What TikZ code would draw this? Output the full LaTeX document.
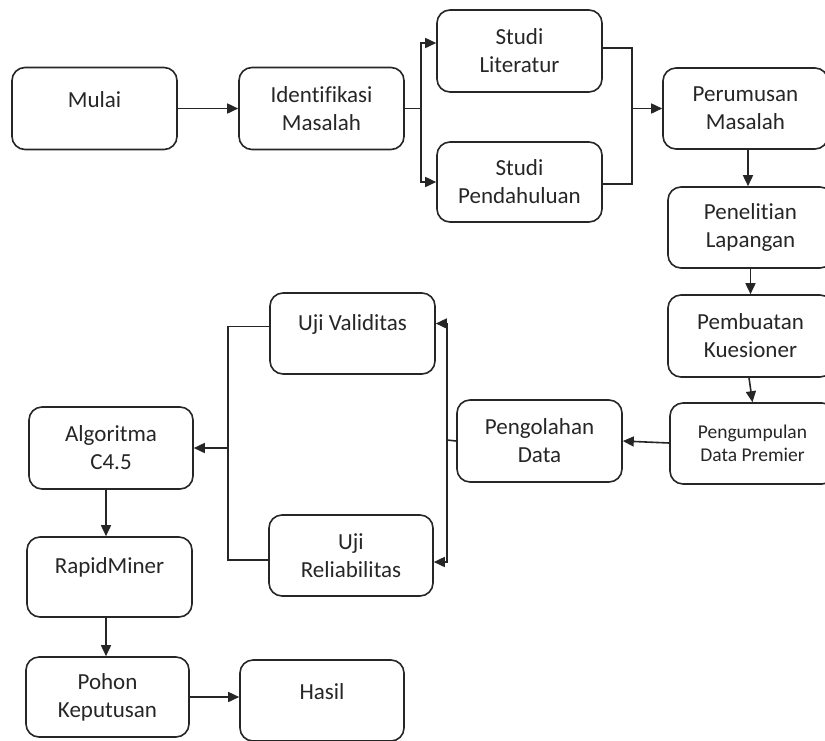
\documentclass[tikz,border=0pt]{standalone}
\usepackage{fontspec}
\setmainfont[Ligatures=NoCommon]{Carlito}
\usetikzlibrary{arrows.meta}
\tikzset{
  box/.style={draw=black!85, line width=1.6pt, rounded corners=13pt, minimum width=165pt, minimum height=82pt, inner sep=0pt, align=center, text=black!85, font=\fontsize{23}{28}\selectfont},
  lbl/.style={text=black!85, font=\fontsize{23}{28}\selectfont, inner sep=0pt},
  arr/.style={draw=black!85, line width=1.6pt, -{Triangle[length=11pt,width=10pt]}},
  ln/.style={draw=black!85, line width=1.6pt},
}
\begin{document}
\begin{tikzpicture}[x=1pt,y=-1pt]
\useasboundingbox (0,0) rectangle (825,740);
% top row
\node[box, label={[lbl,yshift=9pt]center:Mulai}] (mulai) at (94.5,108.5) {};
\node[box] (ident) at (321.5,108.5) {Identifikasi\\Masalah};
\node[box] (lit) at (519.5,51) {Studi\\Literatur};
\node[box, minimum height=80pt] (pend) at (519.5,182) {Studi\\Pendahuluan};
\node[box, minimum height=81pt] (perum) at (745.5,108.5) {Perumusan\\Masalah};
% right column
\node[box, minimum height=81pt] (penel) at (750.5,227.5) {Penelitian\\Lapangan};
\node[box] (pemb) at (750.5,336) {Pembuatan\\Kuesioner};
\node[box, minimum height=81pt, font=\fontsize{19.5}{23}\selectfont] (pengum) at (752.5,443.5) {Pengumpulan\\Data Premier};
% middle
\node[box] (pengol) at (539.5,441) {Pengolahan\\Data};
\node[box, minimum height=81pt, label={[lbl,yshift=9.5pt]center:Uji Validitas}] (valid) at (352.5,333.5) {};
\node[box, minimum width=164pt, minimum height=81pt] (rel) at (351,555.5) {Uji\\Reliabilitas};
% left column
\node[box, minimum width=164pt] (algo) at (111,448) {Algoritma\\C4.5};
\node[box, minimum width=165pt, minimum height=80pt, label={[lbl,yshift=10pt]center:RapidMiner}] (rapid) at (109.5,577) {};
\node[box, minimum width=163pt, minimum height=80pt] (pohon) at (107.5,697) {Pohon\\Keputusan};
\node[box, minimum width=164pt, minimum height=81pt, label={[lbl,yshift=8.5pt]center:Hasil}] (hasil) at (322,700.5) {};

% connectors
\draw[arr] (mulai.east) -- (ident.west);
\coordinate (split) at (421,108.5);
\draw[ln] (ident.east) -- (split);
\draw[arr] (split) |- ([yshift=8pt]lit.west);
\draw[arr] (split) |- (pend.west);
\coordinate (merge) at (632,108.5);
\draw[ln] ([yshift=3pt]lit.east) -| (merge);
\draw[ln] ([yshift=-2pt]pend.east) -| (merge);
\draw[arr] (merge) -- (perum.west);
\draw[arr] ([xshift=2.5pt]perum.south) -- ([xshift=-2.5pt]penel.north);
\draw[arr] (penel.south) -- (pemb.north);
\draw[arr] ([xshift=-1.5pt]pemb.south) -- (pengum.north);
\draw[arr] ([yshift=0.5pt]pengum.west) -- (pengol.east);
\coordinate (rbus) at (447,440);
\draw[ln] (pengol.west) -- (rbus);
\draw[arr] (rbus) |- ([yshift=10pt]valid.east);
\draw[arr] (rbus) |- ([yshift=-6.5pt]rel.east);
\coordinate (lbus) at (228,448);
\draw[ln] ([yshift=7pt]valid.west) -| (lbus);
\draw[ln] ([yshift=-4.5pt]rel.west) -| (lbus);
\draw[arr] (lbus) -- (algo.east);
\draw[arr] ([xshift=-5pt]algo.south) -- ([xshift=-3.5pt]rapid.north);
\draw[arr] ([xshift=-3.5pt]rapid.south) -- ([xshift=-1.5pt]pohon.north);
\draw[arr] (pohon.east) -- (pohon.east -| hasil.west);
\end{tikzpicture}
\end{document}
